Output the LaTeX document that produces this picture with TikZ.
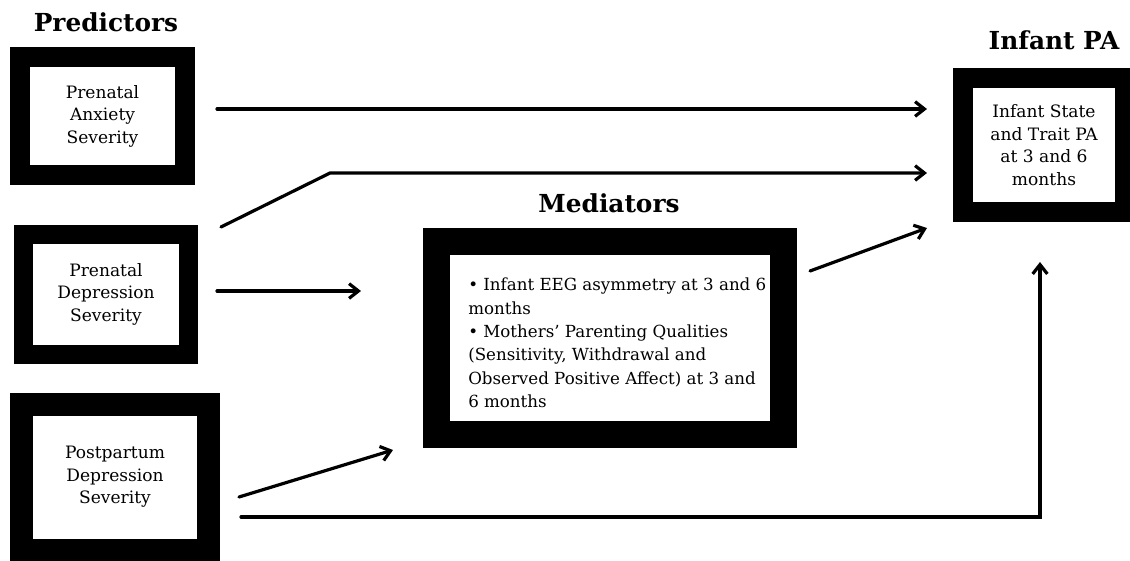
\documentclass[tikz,border=0pt]{standalone}
\usepackage{fontspec}
\setmainfont{DejaVu Serif}
\usetikzlibrary{arrows.meta}
\begin{document}
\begin{tikzpicture}[x=0.75pt,y=-0.75pt,
  thickbox/.style={draw=black,fill=white,align=center,inner sep=0pt,
    font=\fontsize{12.8}{16.9}\selectfont},
  ttl/.style={anchor=base,font=\fontsize{18.6}{21}\selectfont\bfseries},
  conn/.style={line width=2.4pt,line cap=round,line join=miter,
    -{Straight Barb[length=7pt,width=11pt,line width=2.4pt]}}]
\useasboundingbox (0,0) rectangle (1130,560);
\fill[white] (0,0) rectangle (1130,560);

% titles
\node[ttl] (tpred) at (106,32) {Predictors};
\node[ttl] (tmed) at (609,212) {Mediators};
\node[ttl] (tinf) at (1054,50) {Infant PA};

% boxes
\node[thickbox,line width=15pt,minimum width={165*0.75pt},minimum height={118*0.75pt}]
  (anx) at (102.5,116) {Prenatal\\Anxiety\\Severity};
\node[thickbox,line width=14.25pt,minimum width={165*0.75pt},minimum height={120*0.75pt}]
  (dep) at (106,294) {Prenatal\\Depression\\Severity};
\node[thickbox,line width=17.25pt,minimum width={187.5*0.75pt},minimum height={146*0.75pt}]
  (post) at (115,477) {Postpartum\\Depression\\Severity};
\node[thickbox,line width=20.25pt,minimum width={347.5*0.75pt},minimum height={193.5*0.75pt}]
  (med) at (610,338) {};
\node[anchor=west,align=left,inner sep=0pt,font=\fontsize{12.5}{17.6}\selectfont]
  (medtxt) at (468,343) {• Infant EEG asymmetry at 3 and 6\\months\\• Mothers’ Parenting Qualities\\(Sensitivity, Withdrawal and\\Observed Positive Affect) at 3 and\\6 months};
\node[thickbox,line width=15pt,minimum width={162.5*0.75pt},minimum height={134.5*0.75pt}]
  (inf) at (1044,145) {Infant State\\and Trait PA\\at 3 and 6\\months};

% connector end points
\coordinate (a1s) at (217,109); \coordinate (a1e) at (927,109);
\coordinate (a2s) at (221,227); \coordinate (a2k) at (330,173); \coordinate (a2e) at (927,173);
\coordinate (a3s) at (217,291); \coordinate (a3e) at (361,291);
\coordinate (a4s) at (810,271); \coordinate (a4e) at (927,228);
\coordinate (a5s) at (239,497); \coordinate (a5e) at (393,450);
\coordinate (a6s) at (241,517); \coordinate (a6k) at (1040,517); \coordinate (a6e) at (1040,262);

\draw[conn] (a1s) -- (a1e);
\draw[conn] (a2s) -- (a2k) -- (a2e);
\draw[conn] (a3s) -- (a3e);
\draw[conn] (a4s) -- (a4e);
\draw[conn] (a5s) -- (a5e);
\draw[conn] (a6s) -- (a6k) -- (a6e);
\end{tikzpicture}
\end{document}
